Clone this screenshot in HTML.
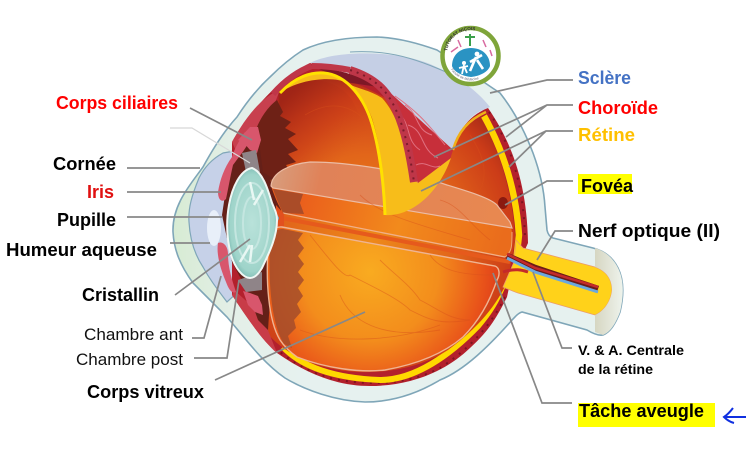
<!DOCTYPE html>
<html><head><meta charset="utf-8"><style>
html,body{margin:0;padding:0;background:#fff;width:746px;height:458px;overflow:hidden}
svg{display:block}
text{font-family:"Liberation Sans",sans-serif;font-weight:bold}
</style></head><body>
<svg width="746" height="458" viewBox="0 0 746 458" xmlns="http://www.w3.org/2000/svg">
<defs>
<radialGradient id="inner" gradientUnits="userSpaceOnUse" cx="370" cy="240" r="170">
<stop offset="0" stop-color="#ee8a1a"/><stop offset=".5" stop-color="#e2661a"/><stop offset=".85" stop-color="#cc3c18"/><stop offset="1" stop-color="#a42a18"/></radialGradient>
<linearGradient id="topshade" gradientUnits="userSpaceOnUse" x1="295" y1="90" x2="350" y2="150">
<stop offset="0" stop-color="#a02416" stop-opacity=".9"/><stop offset=".6" stop-color="#c83c18" stop-opacity=".5"/><stop offset="1" stop-color="#d85418" stop-opacity="0"/></linearGradient>
<radialGradient id="vit" gradientUnits="userSpaceOnUse" cx="370" cy="272" r="125">
<stop offset="0" stop-color="#f9ab20"/><stop offset=".55" stop-color="#f38d1c"/><stop offset=".9" stop-color="#e9541a"/><stop offset="1" stop-color="#e2451a"/></radialGradient>
<linearGradient id="vit2" gradientUnits="userSpaceOnUse" x1="275" y1="170" x2="500" y2="220">
<stop offset="0" stop-color="#d89c7c"/><stop offset=".2" stop-color="#e08258"/><stop offset="1" stop-color="#e88850"/></linearGradient>
<linearGradient id="vit3" gradientUnits="userSpaceOnUse" x1="300" y1="190" x2="500" y2="250">
<stop offset="0" stop-color="#ea5d1c"/><stop offset=".5" stop-color="#f28a1c"/><stop offset="1" stop-color="#ea6c1c"/></linearGradient>
<radialGradient id="lens" cx=".5" cy=".5" r=".55">
<stop offset="0" stop-color="#b9e2da"/><stop offset=".8" stop-color="#9fd4ca"/><stop offset="1" stop-color="#6fb0aa"/></radialGradient>
<linearGradient id="scl" gradientUnits="userSpaceOnUse" x1="170" y1="0" x2="300" y2="0">
<stop offset="0" stop-color="#d6ebd2"/><stop offset=".5" stop-color="#e4efe8"/><stop offset="1" stop-color="#e6f1ef"/></linearGradient>
<linearGradient id="capn" x1="0" y1="0" x2="1" y2="0">
<stop offset="0" stop-color="#d6d6c2"/><stop offset="1" stop-color="#eef3ec"/></linearGradient>
<path id="arc" d="M447,54 A24,24 0 0 1 495,54"/>
<path id="arc2" d="M449,66 A24,24 0 0 0 493,66"/>
</defs>

<!-- sclera -->
<path d="M173,232 C172,205 190,185 203,167 C215,145 225,130 237,117 C248,100 258,88 270,77 C282,65 292,57 303,50 C320,42 345,37 377,37 C400,38 420,44 437,50 C460,65 480,80 500,93 C515,112 525,132 533,153 C540,172 544,190 545,207 L547,230 C548,235 550,237 553,238 L593,248 C605,251 613,258 618,268 C624,280 624,295 620,312 C615,325 610,332 603,335 C598,336 592,333 587,330 L522,312 C518,313 516,316 513,319 C490,345 465,370 440,380 C415,395 390,402 365,402 C335,401 305,390 285,378 C262,362 245,338 227,317 C215,305 205,295 193,283 C180,265 174,250 173,232 Z" fill="url(#scl)" stroke="#7fa6b8" stroke-width="1.6"/>

<!-- anterior chamber -->
<path d="M223,153 C210,160 203,170 199,178 C192,195 188,208 189,222 C190,240 195,255 203,267 C210,280 218,290 227,302 L240,290 L240,150 Z" fill="#c6d1e8" stroke="#7fa6b8" stroke-width="1.2"/>
<ellipse cx="214" cy="228" rx="7" ry="18" fill="#e8eff9"/>

<!-- blue inner sclera -->
<path d="M310,63 C335,50 395,50 430,64 C455,75 475,88 490,107 L483,110 C470,115 458,130 453,150 L383,87 C360,72 335,65 310,63 Z" fill="#c5cfe5"/>
<path d="M350,52 C395,49 425,62 470,83" fill="none" stroke="#7fa6b8" stroke-width="1"/>

<!-- globe red / choroid -->
<path d="M232,142 C245,118 278,78 310,63 L383,87 L453,150 C458,130 470,115 488,108 C510,140 527,180 528,243 L510,283 L507,297 C498,315 490,330 470,348 C445,372 410,386 370,386 C340,386 310,376 277,353 C262,340 247,318 232,295 Z" fill="#b3202c"/>
<!-- dots on choroid -->
<path d="M489,112 C508,140 524,180 525,240" fill="none" stroke="#7e1420" stroke-width="2" stroke-dasharray="2 6"/>
<path d="M505,297 C490,328 465,352 440,368 C410,384 370,387 330,378 C310,372 295,364 280,352" fill="none" stroke="#7e1420" stroke-width="2" stroke-dasharray="2 6"/>

<!-- retina yellow -->
<path d="M283,347 C300,365 330,378 380,380 C415,380 450,355 478,326 C490,312 497,300 503,285" fill="none" stroke="#ffd800" stroke-width="6"/>
<path d="M484,116 C503,150 516,190 519,235 L516,262" fill="none" stroke="#ffd400" stroke-width="6.5"/>

<!-- interior -->
<path d="M262,130 C270,110 280,93 300,80 C340,65 400,100 453,150 C458,132 468,122 481,118 C498,148 513,190 515,240 L508,280 C497,305 478,328 448,350 C405,378 340,378 300,358 C285,350 270,340 262,325 Z" fill="url(#inner)"/>
<path d="M278,92 C300,74 335,76 352,100 L385,165 L285,165 Z" fill="url(#topshade)"/>
<!-- rim yellow near blue -->
<path d="M453,150 C458,132 468,120 486,112" fill="none" stroke="#f0b018" stroke-width="2.5"/>

<!-- red wedge front lower & upper -->
<path d="M232,142 C245,118 262,96 280,90 L272,110 L262,128 L250,150 L240,160 Z" fill="#c8404e"/>
<path d="M234,290 L262,315 L277,353 C262,340 247,318 232,295 Z" fill="#c83c48"/>
<!-- dark behind lens -->
<path d="M236,150 L260,128 L272,170 L282,215 L272,270 L268,330 L258,320 L248,292 L232,262 L222,215 L228,175 Z" fill="#652018"/>
<!-- dark ciliary upper with teeth -->
<path d="M257,127 C262,115 270,105 277,100 L283,112 L280,116 L291,122 L285,128 L296,134 L288,139 L298,150 L288,154 L296,162 L286,165 L290,171 L272,178 L263,172 Z" fill="#6e2116"/>
<path d="M270,180 L290,172 L300,175 L285,184 L272,186 Z" fill="#8a3a20"/>

<!-- iris pink -->
<path d="M232,157 C234,150 238,142 245,132 L250,140 C245,150 238,158 233,165 C230,178 228,190 226,199 C222,203 218,200 218,192 C220,180 224,168 232,157 Z" fill="#d8566c"/>
<path d="M218,243 C223,241 228,246 228,254 C228,268 232,280 236,292 C232,294 229,290 226,282 C221,270 216,255 218,243 Z" fill="#d8566c"/>
<path d="M250,127 L258,127 L261,140 L257,153 L250,150 L244,143 L238,140 Z" fill="#d8566c"/>
<path d="M243,291 L250,293 L258,296 L262,305 L263,315 L255,312 L248,305 Z" fill="#d8566c"/>
<!-- zonules -->
<path d="M242,153 L256,150 L260,172 L246,172Z M238,280 L262,272 L262,290 L246,292Z" fill="#8f8488"/>

<!-- vitreous upper band -->
<path d="M271,186 C272,172 290,164 310,162 C350,162 410,172 447,185 C470,192 490,198 497,205 L510,222 L512,232 C512,246 512,252 505,257 L283,213 C278,205 274,195 271,186 Z" fill="url(#vit3)"/>
<path d="M271,186 C272,172 290,164 310,162 C350,162 410,172 447,185 C470,192 490,198 497,205 L510,222 L512,228 L273,188 Z" fill="url(#vit2)"/>
<path d="M271,186 C272,172 290,164 310,162 C350,162 410,172 447,185 C470,192 490,198 497,205 L510,222 L512,228 L273,188 Z" fill="none" stroke="#ecbca4" stroke-width="1.2"/>
<path d="M273,189 L303,194 L300,203 L304,214 L283,213 C279,205 276,197 273,189Z" fill="#aa4c28"/>
<path d="M512,232 C512,246 512,252 505,257" fill="none" stroke="#eea878" stroke-width="1"/>
<path d="M283,213 L505,257" stroke="#f0b088" stroke-width="1.3" fill="none"/>
<path d="M282,218 L510,262" stroke="#e65a1c" stroke-width="4" fill="none"/>
<!-- behind-lens band -->
<path d="M276,205 L284,214 L284,226 L276,232 Z" fill="#e2501e"/>
<path d="M274,208 L279,218 L274,232 Z" fill="#6fb6d8"/>

<!-- vitreous lower -->
<path d="M268,250 C268,235 272,226 282,227 L495,266 C500,268 500,275 497,280 C492,295 482,318 463,337 C442,355 413,365 385,370 C360,373 325,368 297,357 C290,352 284,346 280,340 C268,320 266,280 268,250 Z" fill="url(#vit)" stroke="#efb492" stroke-width="1.4"/>
<path d="M270,245 C272,232 276,229 283,229 L303,233 L298,240 L304,248 L298,256 L304,264 L298,272 L304,280 L298,288 L303,296 L297,304 L301,312 L294,320 L296,328 L288,336 L292,348 L284,344 C272,325 268,285 270,245 Z" fill="#a54c2a" opacity=".85"/>
<!-- veins -->
<g fill="none" stroke="#d8501a" stroke-width=".9" opacity=".45">
<path d="M310,235 C330,260 345,280 350,275 C380,290 400,300 410,310 C430,320 440,325 470,320 M380,260 C395,275 410,285 420,300 C440,310 450,320 470,320 M340,295 C350,320 380,340 440,330 M300,330 C340,345 400,340 440,325 M430,255 C440,270 460,275 490,275"/>
<path d="M360,195 C380,215 420,225 470,240 M440,200 C460,205 470,225 490,240"/>
<path d="M470,135 C480,150 490,170 480,190 M305,115 C330,100 350,105 365,120"/>
</g>

<!-- red tissue flap -->
<path d="M385,88 L453,150 L449,163 L418,183 C412,150 405,120 385,88 Z" fill="#c72f3a"/>
<path d="M398,112 C412,125 405,140 420,150 M408,125 C425,130 420,150 438,158 M395,96 C415,110 425,120 445,145 M416,165 C425,160 432,170 440,166 M405,105 C420,115 415,130 432,135" fill="none" stroke="#e07080" stroke-width="1"/>
<!-- dark under flap -->
<path d="M312,66 C340,70 362,76 378,87 L345,82 C335,75 325,72 312,66Z" fill="#7e1826"/>
<!-- yellow flap -->
<path d="M280,93 C296,76 312,72 324,73 C345,75 362,92 372,118 C382,150 385,190 385,215 C410,217 438,195 451,158 L418,183 L411,178 C408,150 398,115 382,98 C370,90 355,88 347,83 C335,76 300,78 280,93 Z" fill="#f7bd1a"/>
<path d="M280,93 C296,76 312,72 324,73 C348,75 365,100 372,124 C381,155 384,190 385,215" fill="none" stroke="#ffe100" stroke-width="3"/>
<path d="M350,70 C375,78 387,90 396,110 C405,130 410,155 414,182" fill="none" stroke="#bf3648" stroke-width="8"/>
<path d="M350,70 C375,78 387,90 396,110 C405,130 410,155 414,182" fill="none" stroke="#7c1c2a" stroke-width="2" stroke-dasharray="2 5"/>
<path d="M312,66 C325,66 340,68 350,70" fill="none" stroke="#bf3648" stroke-width="6"/>
<path d="M273,94 C285,80 300,70 312,66" fill="none" stroke="#bf3648" stroke-width="6"/>
<!-- fovea -->
<ellipse cx="503" cy="203" rx="5" ry="6" fill="#8b1a10"/>

<!-- nerve -->
<path d="M516,240 L523,248 L595,267 C607,271 612,280 612,290 C611,302 603,312 595,315 L518,293 C512,291 508,289 503,287 L514,262 Z" fill="#ffd21a" stroke="#ec9a68" stroke-width=".8"/>
<path d="M595,248 C605,251 613,258 618,268 C624,280 624,295 620,312 C615,325 610,332 603,335 L595,332 L595,315 C603,312 611,302 612,290 C612,280 607,271 595,267 Z" fill="url(#capn)"/>
<path d="M507,256 L535,268 L598,289" stroke="#6c1b18" stroke-width="6.5" fill="none"/>
<path d="M507,258 L535,272 L598,292" stroke="#6aa8de" stroke-width="3" fill="none"/>
<path d="M507,254 L535,268 L598,287" stroke="#c42a2a" stroke-width="2.5" fill="none"/>
<path d="M503,272 C515,268 522,270 528,272" stroke="#c42a2a" stroke-width="3" fill="none"/>

<!-- lens -->
<path d="M252,168 C263,172 268,190 272,203 C275,210 277,214 277,220 C277,238 268,255 262,268 C258,275 254,278 250,278 C243,278 235,268 231,255 C227,240 226,222 229,205 C232,188 240,170 252,168 Z" fill="url(#lens)" stroke="#f0f7f4" stroke-width="2"/>
<ellipse cx="252" cy="223" rx="17" ry="40" fill="none" stroke="#c4e6e0" stroke-width="2"/>
<ellipse cx="252" cy="223" rx="9" ry="26" fill="none" stroke="#c4e6e0" stroke-width="2"/>
<path d="M250,182 L254,200 M263,190 L254,205 M250,262 L252,245 M240,262 L250,245" stroke="#e8f7f3" stroke-width="2.5" fill="none"/>

<!-- connectors -->
<g fill="none" stroke="#888" stroke-width="1.7">
<path d="M190,108 L252,140"/>
<path d="M127,168 H200"/>
<path d="M127,192 H221"/>
<path d="M127,217 H222"/>
<path d="M170,243 H210"/>
<path d="M175,295 L250,239"/>
<path d="M192,338 H204 L221,276"/>
<path d="M194,358 H227 L239,280"/>
<path d="M215,380 L365,312"/>
<path d="M573,80 H547 L490,93"/>
<path d="M573,105 H547 L434,157 M547,105 L506,137"/>
<path d="M573,131 H546 L421,191 M546,131 L509,167"/>
<path d="M573,181 H547 L505,205"/>
<path d="M573,231 H555 L537,260"/>
<path d="M572,348 H562 L533,272"/>
<path d="M572,403 H542 L493,273"/>
</g>
<path d="M170,128 H192 L250,163" fill="none" stroke="#d8d8d8" stroke-width="1.2"/>

<!-- logo -->
<circle cx="470.5" cy="56" r="28" fill="#fff" stroke="#7fa53a" stroke-width="4.5"/>
<path d="M452,66 C452,55 460,48 471,48 C482,48 490,55 490,66 C488,72 480,76 471,77 C462,76 454,72 452,66Z" fill="#2a93c3"/>
<path d="M470,34 V46 M465,37 H475" stroke="#3aa04a" stroke-width="2" fill="none"/>
<path d="M451,52 L458,47 M458,40 L461,47" stroke="#d86aa0" stroke-width="1.5" fill="none"/>
<path d="M483,40 L486,47 M490,50 L492,56" stroke="#d86aa0" stroke-width="1.5" fill="none"/>
<circle cx="477" cy="54" r="2.4" fill="#fff"/><path d="M476,57 L470,71 M477,60 L483,69 M470,62 L482,55" stroke="#fff" stroke-width="2.6" fill="none"/>
<circle cx="464" cy="63" r="2" fill="#fff"/><path d="M464,65 L462,74 M464,66 L467,73 M459,68 L468,66" stroke="#fff" stroke-width="1.8" fill="none"/>
<text font-size="4.6" fill="#333"><textPath href="#arc" startOffset="3">TUTORAT NIÇOIS</textPath></text>
<text font-size="3.4" fill="#667" style="font-weight:normal"><textPath href="#arc2" startOffset="4">Faculté de Médecine</textPath></text>

<!-- labels -->
<rect x="578" y="174" width="54" height="20" fill="#ffff00"/>
<rect x="578" y="403" width="137" height="24" fill="#ffff00"/>
<g font-size="18">
<text x="56" y="109" fill="#ff0000" textLength="122" lengthAdjust="spacingAndGlyphs">Corps ciliaires</text>
<text x="53" y="170" fill="#000" textLength="63" lengthAdjust="spacingAndGlyphs">Cornée</text>
<text x="87" y="198" fill="#e01010" textLength="27" lengthAdjust="spacingAndGlyphs">Iris</text>
<text x="57" y="226" fill="#000" textLength="59" lengthAdjust="spacingAndGlyphs">Pupille</text>
<text x="6" y="256" fill="#000" textLength="151" lengthAdjust="spacingAndGlyphs">Humeur aqueuse</text>
<text x="82" y="301" fill="#000" textLength="77" lengthAdjust="spacingAndGlyphs">Cristallin</text>
<text x="87" y="398" fill="#000" textLength="117" lengthAdjust="spacingAndGlyphs">Corps vitreux</text>
<text x="578" y="84" fill="#4472c4" textLength="53" lengthAdjust="spacingAndGlyphs">Sclère</text>
<text x="578" y="114" fill="#ff0000" textLength="80" lengthAdjust="spacingAndGlyphs">Choroïde</text>
<text x="578" y="141" fill="#ffc000" textLength="57" lengthAdjust="spacingAndGlyphs">Rétine</text>
<text x="581" y="192" fill="#000" textLength="52" lengthAdjust="spacingAndGlyphs">Fovéa</text>
<text x="578" y="237" fill="#000" textLength="142" lengthAdjust="spacingAndGlyphs">Nerf optique (II)</text>
<text x="579" y="417" fill="#000" textLength="125" lengthAdjust="spacingAndGlyphs">Tâche aveugle</text>
</g>
<g font-size="17">
<text x="84" y="340" fill="#111" style="font-weight:normal" textLength="99" lengthAdjust="spacingAndGlyphs">Chambre ant</text>
<text x="76" y="365" fill="#111" style="font-weight:normal" textLength="107" lengthAdjust="spacingAndGlyphs">Chambre post</text>
</g>
<g font-size="14">
<text x="578" y="355" fill="#000" textLength="106" lengthAdjust="spacingAndGlyphs">V. &amp; A. Centrale</text>
<text x="578" y="374" fill="#000" textLength="75" lengthAdjust="spacingAndGlyphs">de la rétine</text>
</g>

<!-- blue arrow -->
<path d="M746,417 H724 M733,408 C730,412 727,415 724,417 C727,420 730,422 734,423" fill="none" stroke="#1030e0" stroke-width="2"/>
</svg>
</body></html>
